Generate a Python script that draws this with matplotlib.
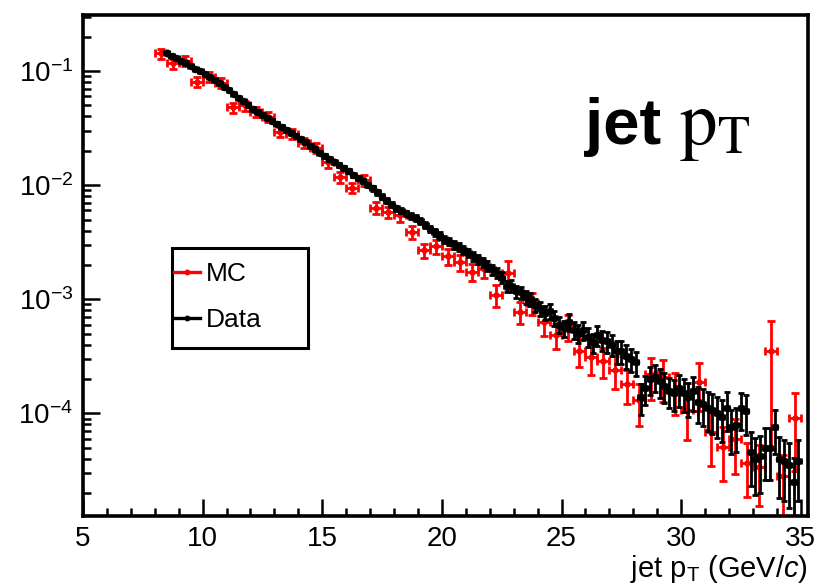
import numpy as np
import matplotlib
matplotlib.use("Agg")
import matplotlib.pyplot as plt
from matplotlib.ticker import LogLocator, MultipleLocator, NullFormatter, FixedLocator
from matplotlib.lines import Line2D
from matplotlib.patches import Rectangle

plt.rcParams['font.family'] = ['Liberation Sans', 'DejaVu Sans']
plt.rcParams['mathtext.fontset'] = 'custom'
plt.rcParams['mathtext.rm'] = 'Liberation Sans'
plt.rcParams['mathtext.it'] = 'Liberation Sans:italic'
plt.rcParams['mathtext.bf'] = 'Liberation Sans:bold'

# ---------------- data ----------------
mc_pt = [8.25, 8.75, 9.25, 9.75, 10.25, 10.75, 11.25, 11.75, 12.25, 12.75,
         13.25, 13.75, 14.25, 14.75, 15.25, 15.75, 16.25, 16.75, 17.25, 17.75,
         18.25, 18.75, 19.25, 19.75, 20.25, 20.75, 21.25, 21.75, 22.25, 22.75,
         23.25, 23.75, 24.25, 24.75, 25.25, 25.75, 26.25, 26.75, 27.25, 27.75,
         28.25, 28.75, 29.25, 29.75, 30.25, 30.75, 31.25, 31.75, 32.25, 32.75,
         33.25, 33.75, 34.25, 34.75]
mc_val = [0.143, 0.117, 0.122, 0.080, 0.089, 0.0785, 0.048, 0.050, 0.0437, 0.0397,
          0.0293, 0.028, 0.0234, 0.0212, 0.016, 0.0118, 0.0095, 0.0111, 0.0063, 0.0058,
          0.0055, 0.0039, 0.0027, 0.0029, 0.0024, 0.0021, 0.00175, 0.00185, 0.0011, 0.0017,
          0.00078, 0.00093, 0.00063, 0.00049, 0.00058, 0.00035, 0.00031, 0.00029, 0.00024, 0.00018,
          0.00013, 0.00022, 0.00021, 0.00016, 0.000107, 0.00019, 6.9e-5, 5.1e-5, 5.9e-5, 3.7e-5,
          3.4e-5, 3.5e-4, 2.8e-5, 9.1e-5]
mc_relerr = [0.10, 0.10, 0.10, 0.10, 0.10, 0.10, 0.10, 0.10, 0.10, 0.10,
             0.10, 0.10, 0.10, 0.10, 0.11, 0.11, 0.11, 0.11, 0.12, 0.12,
             0.13, 0.13, 0.14, 0.14, 0.16, 0.16, 0.17, 0.17, 0.22, 0.28,
             0.22, 0.22, 0.25, 0.25, 0.25, 0.27, 0.30, 0.30, 0.32, 0.33,
             0.40, 0.40, 0.40, 0.40, 0.45, 0.45, 0.50, 0.50, 0.50, 0.50,
             0.55, 0.86, 0.55, 0.66]

data_pt = [8.5, 8.7, 8.9, 9.1, 9.3, 9.5, 9.7, 9.9, 10.1, 10.3,
           10.5, 10.7, 10.9, 11.1, 11.3, 11.5, 11.7, 11.9, 12.1, 12.3,
           12.5, 12.7, 12.9, 13.1, 13.3, 13.5, 13.7, 13.9, 14.1, 14.3,
           14.5, 14.7, 14.9, 15.1, 15.3, 15.5, 15.7, 15.9, 16.1, 16.3,
           16.5, 16.7, 16.9, 17.1, 17.3, 17.5, 17.7, 17.9, 18.1, 18.3,
           18.5, 18.7, 18.9, 19.1, 19.3, 19.5, 19.7, 19.9, 20.1, 20.3,
           20.5, 20.7, 20.9, 21.1, 21.3, 21.5, 21.7, 21.9, 22.1, 22.3,
           22.5, 22.7, 22.9, 23.1, 23.3, 23.5, 23.7, 23.9, 24.1, 24.3,
           24.5, 24.7, 24.9, 25.1, 25.3, 25.5, 25.7, 25.9, 26.1, 26.3,
           26.5, 26.7, 26.9, 27.1, 27.3, 27.5, 27.7, 27.9, 28.1, 28.3,
           28.5, 28.7, 28.9, 29.1, 29.3, 29.5, 29.7, 29.9, 30.1, 30.3,
           30.5, 30.7, 30.9, 31.1, 31.3, 31.5, 31.7, 31.9, 32.1, 32.3,
           32.5, 32.7, 32.9, 33.1, 33.3, 33.5, 33.7, 33.9, 34.1, 34.3,
           34.5, 34.7, 34.9]
data_val = [0.143, 0.136, 0.129, 0.123, 0.117, 0.111, 0.105, 0.100, 0.0946, 0.0887,
            0.0832, 0.0780, 0.0731, 0.0681, 0.0632, 0.0585, 0.0543, 0.0503, 0.0469, 0.0441,
            0.0414, 0.0390, 0.0366, 0.0344, 0.0324, 0.0305, 0.0288, 0.0271, 0.0254, 0.0237,
            0.0221, 0.0207, 0.0193, 0.0180, 0.0170, 0.0159, 0.0150, 0.0141, 0.0132, 0.0123,
            0.0115, 0.0108, 0.0101, 0.00938, 0.00863, 0.00794, 0.00731, 0.00673, 0.00630, 0.00598,
            0.00569, 0.00541, 0.00514, 0.00483, 0.00449, 0.00417, 0.00387, 0.00360, 0.00337, 0.00319,
            0.00302, 0.00286, 0.00270, 0.00255, 0.00239, 0.00224, 0.00210, 0.00197, 0.00183, 0.00170,
            0.00155, 0.00130, 0.00132, 0.00117, 0.00115, 0.00105, 0.00100, 0.00089, 0.00083, 0.00076,
            0.00079, 0.00068, 0.00060, 0.00056, 0.00063, 0.00054, 0.00050, 0.00054, 0.00047, 0.00042,
            0.00049, 0.00044, 0.00043, 0.00040, 0.00035, 0.00035, 0.00032, 0.00030, 0.00028, 0.000138,
            0.000166, 0.000200, 0.000209, 0.000191, 0.000174, 0.000158, 0.000151, 0.000166, 0.000151, 0.000138,
            0.000158, 0.000126, 0.000120, 0.000112, 0.000107, 0.000100, 9.33e-5, 0.000112, 7.6e-5, 7.9e-5,
            0.000112, 0.000105, 4.6e-5, 4.0e-5, 4.2e-5, 5.0e-5, 5.0e-5, 7.6e-5, 4.0e-5, 3.8e-5,
            3.5e-5, 2.5e-5, 3.8e-5]
data_relerr = [0.02, 0.02, 0.02, 0.02, 0.02, 0.02, 0.02, 0.02, 0.02, 0.02,
               0.02, 0.02, 0.02, 0.02, 0.02, 0.02, 0.02, 0.02, 0.03, 0.03,
               0.03, 0.03, 0.03, 0.03, 0.03, 0.03, 0.03, 0.03, 0.03, 0.03,
               0.03, 0.03, 0.03, 0.04, 0.04, 0.04, 0.04, 0.04, 0.04, 0.04,
               0.04, 0.04, 0.04, 0.05, 0.05, 0.05, 0.05, 0.05, 0.05, 0.05,
               0.05, 0.06, 0.06, 0.06, 0.06, 0.06, 0.07, 0.07, 0.07, 0.07,
               0.08, 0.08, 0.08, 0.08, 0.09, 0.09, 0.09, 0.10, 0.10, 0.10,
               0.11, 0.11, 0.12, 0.12, 0.12, 0.13, 0.13, 0.13, 0.14, 0.14,
               0.15, 0.15, 0.16, 0.16, 0.17, 0.17, 0.18, 0.18, 0.19, 0.19,
               0.20, 0.20, 0.21, 0.21, 0.22, 0.22, 0.23, 0.23, 0.24, 0.30,
               0.28, 0.27, 0.27, 0.28, 0.29, 0.30, 0.31, 0.31, 0.32, 0.33,
               0.33, 0.35, 0.36, 0.37, 0.38, 0.39, 0.40, 0.38, 0.42, 0.42,
               0.36, 0.38, 0.50, 0.52, 0.52, 0.48, 0.48, 0.42, 0.55, 0.55,
               0.58, 0.62, 0.55]

mc_bin_half = 0.25
data_bin_half = 0.1

# ---------------- plot ----------------
fig = plt.figure(figsize=(8.2, 5.87), dpi=100)
ax = fig.add_axes([83/820, 1 - 516/587, (808 - 83)/820, (516 - 15)/587])

mc_err = np.array(mc_val) * np.array(mc_relerr)
d_err = np.array(data_val) * np.array(data_relerr)

ax.errorbar(mc_pt, mc_val, yerr=mc_err, xerr=mc_bin_half, fmt='o', color='#ff0000',
            ms=3.6, elinewidth=2.0, capsize=2.6, capthick=2.0, zorder=2)
ax.errorbar(data_pt, data_val, yerr=d_err, xerr=data_bin_half, fmt='o', color='black',
            ms=4.4, elinewidth=2.0, capsize=2.4, capthick=2.0, zorder=3)

ax.set_yscale('log')
ax.set_xlim(5, 35.3)
ax.set_ylim(1.26e-5, 0.31)

ax.xaxis.set_major_locator(FixedLocator([5, 10, 15, 20, 25, 30, 35]))
ax.xaxis.set_minor_locator(MultipleLocator(1))
ax.yaxis.set_major_locator(FixedLocator([1e-4, 1e-3, 1e-2, 1e-1]))
ax.yaxis.set_minor_locator(LogLocator(base=10, subs=np.arange(2, 10), numticks=20))
ax.yaxis.set_minor_formatter(NullFormatter())
ax.set_yticklabels([r'$10^{-4}$', r'$10^{-3}$', r'$10^{-2}$', r'$10^{-1}$'])

ax.tick_params(axis='both', which='major', direction='in', length=12, width=1.8,
               labelsize=20, top=False, right=False, pad=7)
ax.tick_params(axis='both', which='minor', direction='in', length=6, width=1.8,
               top=False, right=False)
for s in ax.spines.values():
    s.set_linewidth(2.6)

ax.set_xlabel(r'jet p$_{\mathrm{T}}$ (GeV/$\mathit{c}$)', fontsize=21, loc='right', labelpad=1)

# legend
handles = [Line2D([], [], color='#ff0000', lw=2.4, marker='o', ms=3.2),
           Line2D([], [], color='black', lw=2.4, marker='o', ms=3.2)]
ax.legend(handles, ['MC', 'Data'], loc='center left',
          bbox_to_anchor=((174 - 83)/725, (516 - 297)/501), borderaxespad=0,
          fontsize=19, frameon=False, handlelength=1.0, handletextpad=0.2,
          borderpad=0.0, labelspacing=0.85)
ax.add_patch(Rectangle(((172 - 83)/725, (516 - 348)/501), 136/725, 100/501,
                       transform=ax.transAxes, fill=False, ec='black', lw=2.2, zorder=5))

# title
ax.text((585 - 83)/725, (516 - 144)/501, 'jet', transform=ax.transAxes,
        fontsize=47, fontweight='bold', ha='left', va='baseline')
ax.text((679 - 83)/725, (516 - 144)/501, r'$\mathrm{p}_{\mathrm{T}}$', transform=ax.transAxes,
        fontsize=54, ha='left', va='baseline', math_fontfamily='stix')

fig.savefig('out.png', dpi=100)
